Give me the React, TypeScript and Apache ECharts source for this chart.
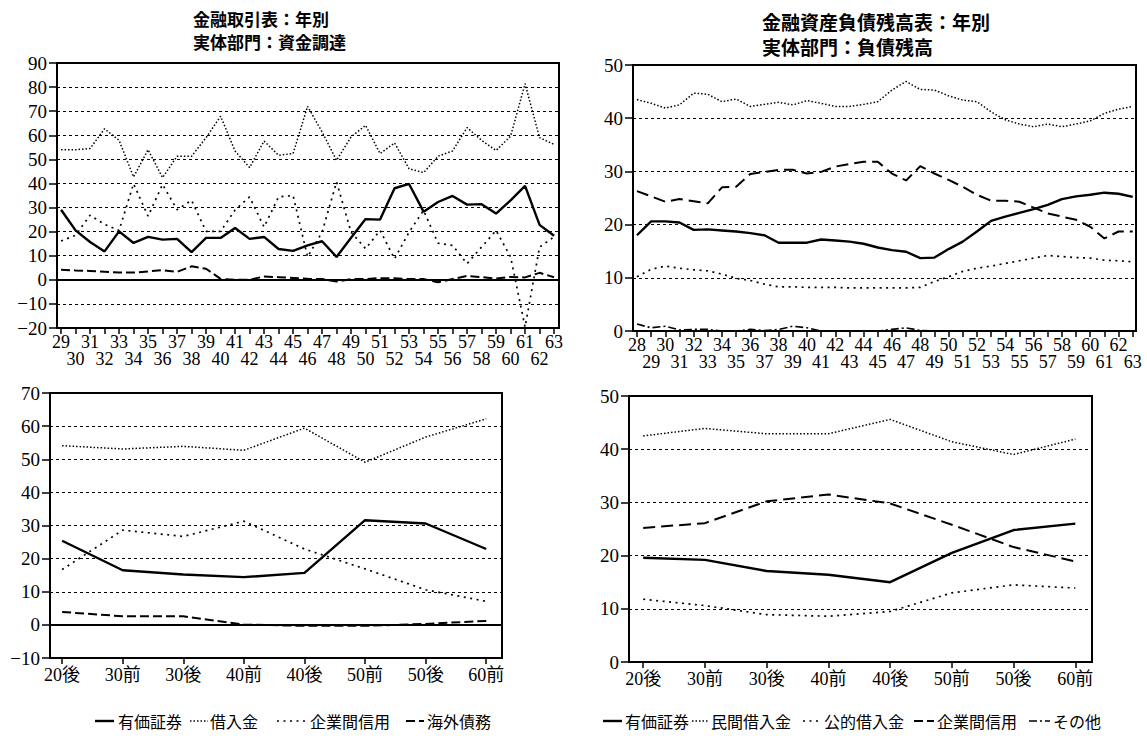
import React, { useEffect, useRef } from "react";
import * as echarts from "echarts";

// ---------- categories ----------
const yearsTL = [29,30,31,32,33,34,35,36,37,38,39,40,41,42,43,44,45,46,47,48,49,50,51,52,53,54,55,56,57,58,59,60,61,62,63];
const yearsTR = [28,29,30,31,32,33,34,35,36,37,38,39,40,41,42,43,44,45,46,47,48,49,50,51,52,53,54,55,56,57,58,59,60,61,62,63];
const periods = ["20後", "30前", "30後", "40前", "40後", "50前", "50後", "60前"];
const periodIdx = [0, 1, 2, 3, 4, 5, 6, 7];

// ---------- top-left: 金融取引表 資金調達 ----------
const tlSecurities = [29.1,20.5,15.7,11.8,20.1,15.3,17.8,16.7,17,11.5,17.4,17.4,21.5,17,17.8,12.8,12,14.3,16,9.5,17.5,25.2,25,38,39.8,28.3,32.3,34.8,31.2,31.4,27.5,33,39,22.8,18.3];
const tlBorrowing = [54,54,54.5,62.7,57.9,42.7,54,42.4,51.3,51.3,59,67.9,53.5,46.6,57.6,51.7,52.4,72,61.4,49.6,59.3,64.1,52.4,56.8,46.1,44.5,51.3,53.5,63.2,57.9,53.7,59.6,81.4,59,56.2];
const tlTradeCredit = [16.1,18.5,26.8,23,20.5,39.9,26.4,39.6,29.1,33,20.1,20.1,29,34.4,21.9,34.4,35,9.5,19.8,40.6,19.8,12.9,20.5,8.7,19.8,28.8,15.2,14.3,6.7,13.6,20.5,9.5,-19.6,13.6,17.8];
const tlForeignDebt = [4.2,3.9,3.7,3.4,3,3,3.5,4,3.3,5.6,4.6,0.4,0,0,1.4,1.1,0.8,0.4,0.3,-0.7,0.3,0.3,0.7,0.7,0.3,0.3,-1,0.3,1.6,1.1,0.5,1.2,1,2.9,1.1];

// ---------- top-right: 金融資産負債残高表 負債残高 ----------
const trSecurities = [18,20.6,20.6,20.4,19,19.1,18.9,18.7,18.4,18,16.6,16.6,16.6,17.2,17,16.8,16.4,15.7,15.2,14.9,13.7,13.8,15.4,16.8,18.7,20.7,21.5,22.2,22.9,23.7,24.8,25.3,25.6,26,25.8,25.2];
const trPrivateLoans = [43.5,42.8,41.9,42.5,44.7,44.5,43.1,43.6,42.2,42.6,43,42.5,43.3,42.8,42.2,42.2,42.6,43.1,45.3,46.9,45.4,45.3,44.2,43.4,43.1,41.2,39.7,38.9,38.4,38.9,38.4,38.9,39.5,40.9,41.7,42.2];
const trPublicLoans = [10.2,11.6,12.2,11.8,11.5,11.3,10.7,9.9,9.5,8.8,8.3,8.3,8.2,8.2,8.2,8.1,8.1,8.1,8.1,8.1,8.2,9.3,10.2,11.2,11.8,12.2,12.7,13.2,13.7,14.2,14,13.8,13.7,13.3,13.2,13];
const trTradeCredit = [26.3,25.3,24.3,24.8,24.4,24,27,27.1,29.5,29.9,30.3,30.3,29.6,29.9,30.9,31.4,31.8,31.8,29.6,28.3,31,29.6,28.4,27.1,25.6,24.5,24.5,24.3,23.2,22.1,21.5,20.9,19.6,17.4,18.7,18.7];
const trOther = [1.3,0.6,0.9,0.2,0.3,0.3,0,0,0.3,0.1,0.3,0.9,0.6,0,0,0,0,0,0.3,0.6,0.1,0,0,0,0,0,0,0,0,0,0,0,0,0,0,0];

// ---------- bottom-left: 期間別 資金調達 ----------
const blSecurities = [25.4,16.5,15.2,14.4,15.7,31.6,30.6,22.9];
const blBorrowing = [54.1,53.1,53.9,52.7,59.4,49.1,56.7,62.2];
const blTradeCredit = [16.7,28.6,26.7,31.3,22.9,16.9,10.6,7.1];
const blForeignDebt = [3.9,2.6,2.6,0.1,-0.3,-0.3,0.3,1.2];

// ---------- bottom-right: 期間別 負債残高 ----------
const brSecurities = [19.6,19.2,17.1,16.4,15,20.5,24.8,26];
const brPrivateLoans = [42.5,43.9,42.9,42.9,45.6,41.4,39,41.9];
const brPublicLoans = [11.8,10.6,8.9,8.6,9.5,13,14.5,13.9];
const brTradeCredit = [25.2,26.1,30.2,31.5,29.8,25.8,21.6,18.9];

// ---------- legends ----------
const legendLeft = ["有価証券", "借入金", "企業間信用", "海外債務"];
const legendRight = ["有価証券", "民間借入金", "公的借入金", "企業間信用", "その他"];

const SERIF = '"Liberation Serif", "Noto Sans CJK JP", serif';
const GOTHIC = '"Noto Sans CJK JP", sans-serif';

// line styles
const ST_SOLID = { color: "#000", width: 2.4, type: "solid" as any };
const ST_FINEDOT = { color: "#000", width: 1.5, type: [1.5, 2] };
const ST_WIDEDOT = { color: "#000", width: 1.7, type: [2, 4.5] };
const ST_DASH = { color: "#000", width: 2, type: [9, 4] };
const ST_LONGDASH = { color: "#000", width: 2, type: [12, 6] };
const ST_DASHDOT = { color: "#000", width: 1.6, type: [8, 3, 2, 3] };

function dashOf(st: any): number[] | null {
  return Array.isArray(st.type) ? st.type : null;
}

function pairs(xs: number[], ys: number[]) {
  return xs.map((x, i) => [x, ys[i]]);
}

function yAxis(gridIndex: number, min: number, max: number) {
  return {
    type: "value",
    gridIndex,
    min,
    max,
    interval: 10,
    axisLine: { show: true, onZero: false, lineStyle: { color: "#000", width: 2 } },
    axisTick: { show: true, inside: false, length: 8, lineStyle: { color: "#000", width: 1.5 } },
    axisLabel: {
      color: "#000",
      fontFamily: SERIF,
      fontSize: 19,
      margin: 10,
      showMinLabel: true,
      showMaxLabel: true,
      formatter: (v: number) => (v < 0 ? "\u2212" + Math.abs(v) : String(v)),
    },
    splitLine: {
      show: true,
      lineStyle: { color: "#000", width: 1.1, type: [3, 3] },
    },
  };
}

// main year axis: ticks at every year, labels on the first row
function yearAxis(gridIndex: number, years: number[], rowYears: number[], min: number, max: number) {
  return {
    type: "value",
    gridIndex,
    position: "bottom",
    min,
    max,
    axisLine: { show: true, onZero: false, lineStyle: { color: "#000", width: 2 } },
    axisTick: { show: true, customValues: years, length: 6, lineStyle: { color: "#000", width: 1.5 } },
    axisLabel: {
      show: true,
      customValues: rowYears,
      showMinLabel: true,
      showMaxLabel: true,
      color: "#000",
      fontFamily: SERIF,
      fontSize: 18,
      margin: 5,
      formatter: (v: number) => String(Math.round(v)),
    },
    splitLine: { show: false },
  };
}

// second label row (no line / ticks)
function yearAxisRow2(gridIndex: number, rowYears: number[], min: number, max: number) {
  return {
    type: "value",
    gridIndex,
    position: "bottom",
    offset: 0,
    min,
    max,
    axisLine: { show: false, onZero: false },
    axisTick: { show: false },
    axisLabel: {
      show: true,
      customValues: rowYears,
      showMinLabel: true,
      showMaxLabel: true,
      color: "#000",
      fontFamily: SERIF,
      fontSize: 18,
      margin: 22,
      formatter: (v: number) => String(Math.round(v)),
    },
    splitLine: { show: false },
  };
}

function periodAxis(gridIndex: number, min: number, max: number) {
  return {
    type: "value",
    gridIndex,
    min,
    max,
    axisLine: { show: true, onZero: false, lineStyle: { color: "#000", width: 2 } },
    axisTick: { show: true, customValues: periodIdx, length: 6, lineStyle: { color: "#000", width: 1.5 } },
    axisLabel: {
      show: true,
      customValues: periodIdx,
      showMinLabel: true,
      showMaxLabel: true,
      color: "#000",
      fontFamily: SERIF,
      fontSize: 18,
      margin: 8,
      formatter: (v: number) => periods[Math.round(v)] ?? "",
    },
    splitLine: { show: false },
  };
}

function line(name: string, idx: number, data: number[][], style: any, extra: any = {}) {
  return {
    name,
    type: "line",
    xAxisIndex: idx,
    yAxisIndex: idx,
    data,
    symbol: "none",
    silent: true,
    lineStyle: style,
    itemStyle: { color: "#000" },
    z: 5,
    ...extra,
  };
}

const zeroLine = {
  silent: true,
  symbol: ["none", "none"],
  label: { show: false },
  lineStyle: { color: "#000", type: "solid", width: 2 },
  data: [{ yAxis: 0 }],
};

// legend item = sample line + label
function legendItem(name: string, st: any, x1: number, x2: number, tx: number, y: number) {
  const dash = dashOf(st);
  return [
    {
      type: "line",
      silent: true,
      shape: { x1, y1: y, x2, y2: y },
      style: { stroke: "#000", lineWidth: st.width, lineDash: dash || undefined },
    },
    {
      type: "text",
      silent: true,
      x: tx,
      y,
      style: { text: name, fontFamily: GOTHIC, fontSize: 16, fill: "#000", verticalAlign: "middle" },
    },
  ];
}

export default function App() {
  const ref = useRef<HTMLDivElement>(null);

  useEffect(() => {
    if (!ref.current) return;
    const chart = echarts.init(ref.current, null, { renderer: "svg" });

    const grid = {
      show: true,
      borderColor: "#000",
      borderWidth: 2,
      backgroundColor: "transparent",
      containLabel: false,
    };

    const tlOdd = yearsTL.filter((y) => y % 2 === 1);
    const tlEven = yearsTL.filter((y) => y % 2 === 0);
    const trOdd = yearsTR.filter((y) => y % 2 === 1);
    const trEven = yearsTR.filter((y) => y % 2 === 0);

    const LY = 721;
    const legendGraphics = [
      ...legendItem(legendLeft[0], ST_SOLID, 95, 114, 118, LY),
      ...legendItem(legendLeft[1], ST_FINEDOT, 190, 208, 210, LY),
      ...legendItem(legendLeft[2], ST_WIDEDOT, 277, 306, 310, LY),
      ...legendItem(legendLeft[3], ST_DASH, 406, 424, 427, LY),
      ...legendItem(legendRight[0], ST_SOLID, 603, 622, 625, LY),
      ...legendItem(legendRight[1], ST_FINEDOT, 692, 709, 711, LY),
      ...legendItem(legendRight[2], ST_WIDEDOT, 803, 821, 824, LY),
      ...legendItem(legendRight[3], ST_DASH, 914, 934, 937, LY),
      ...legendItem(legendRight[4], ST_DASHDOT, 1029, 1050, 1053, LY),
    ];

    const option: any = {
      animation: false,
      backgroundColor: "#fff",
      textStyle: { fontFamily: SERIF },
      grid: [
        { ...grid, left: 57, top: 63, width: 502, height: 265 },
        { ...grid, left: 633, top: 65, width: 503, height: 266 },
        { ...grid, left: 50, top: 393, width: 452, height: 265 },
        { ...grid, left: 629, top: 396, width: 463, height: 266 },
      ],
      xAxis: [
        yearAxis(0, yearsTL, tlOdd, 28.72, 63.34),
        yearAxis(1, yearsTR, trEven, 27.72, 63.23),
        periodAxis(2, -0.2, 7.26),
        periodAxis(3, -0.23, 7.27),
        yearAxisRow2(0, tlEven, 28.72, 63.34),
        yearAxisRow2(1, trOdd, 27.72, 63.23),
      ],
      yAxis: [yAxis(0, -20, 90), yAxis(1, 0, 50), yAxis(2, -10, 70), yAxis(3, 0, 50)],
      graphic: [
        { type: "text", left: 193, top: 10, style: { text: "金融取引表：年別", fontFamily: GOTHIC, fontWeight: "bold", fontSize: 17, fill: "#000" } },
        { type: "text", left: 193, top: 33, style: { text: "実体部門：資金調達", fontFamily: GOTHIC, fontWeight: "bold", fontSize: 17, fill: "#000" } },
        { type: "text", left: 762, top: 12, style: { text: "金融資産負債残高表：年別", fontFamily: GOTHIC, fontWeight: "bold", fontSize: 19, fill: "#000" } },
        { type: "text", left: 762, top: 37, style: { text: "実体部門：負債残高", fontFamily: GOTHIC, fontWeight: "bold", fontSize: 19, fill: "#000" } },
        ...legendGraphics,
      ],
      series: [
        line("有価証券", 0, pairs(yearsTL, tlSecurities), ST_SOLID, { markLine: zeroLine }),
        line("借入金", 0, pairs(yearsTL, tlBorrowing), ST_FINEDOT),
        line("企業間信用", 0, pairs(yearsTL, tlTradeCredit), ST_WIDEDOT),
        line("海外債務", 0, pairs(yearsTL, tlForeignDebt), ST_DASH),

        line("有価証券", 1, pairs(yearsTR, trSecurities), ST_SOLID),
        line("民間借入金", 1, pairs(yearsTR, trPrivateLoans), ST_FINEDOT),
        line("公的借入金", 1, pairs(yearsTR, trPublicLoans), ST_WIDEDOT),
        line("企業間信用", 1, pairs(yearsTR, trTradeCredit), ST_LONGDASH),
        line("その他", 1, pairs(yearsTR, trOther), ST_DASHDOT),

        line("有価証券", 2, pairs(periodIdx, blSecurities), ST_SOLID, { markLine: zeroLine }),
        line("借入金", 2, pairs(periodIdx, blBorrowing), ST_FINEDOT),
        line("企業間信用", 2, pairs(periodIdx, blTradeCredit), ST_WIDEDOT),
        line("海外債務", 2, pairs(periodIdx, blForeignDebt), ST_DASH),

        line("有価証券", 3, pairs(periodIdx, brSecurities), ST_SOLID),
        line("民間借入金", 3, pairs(periodIdx, brPrivateLoans), ST_FINEDOT),
        line("公的借入金", 3, pairs(periodIdx, brPublicLoans), ST_WIDEDOT),
        line("企業間信用", 3, pairs(periodIdx, brTradeCredit), ST_LONGDASH),
      ],
    };

    chart.setOption(option);
    return () => chart.dispose();
  }, []);

  return (
    <div
      style={{ position: "fixed", left: 0, top: 0, width: 1147, height: 744, background: "#fff" }}
    >
      <div ref={ref} style={{ width: 1147, height: 744 }} />
    </div>
  );
}
